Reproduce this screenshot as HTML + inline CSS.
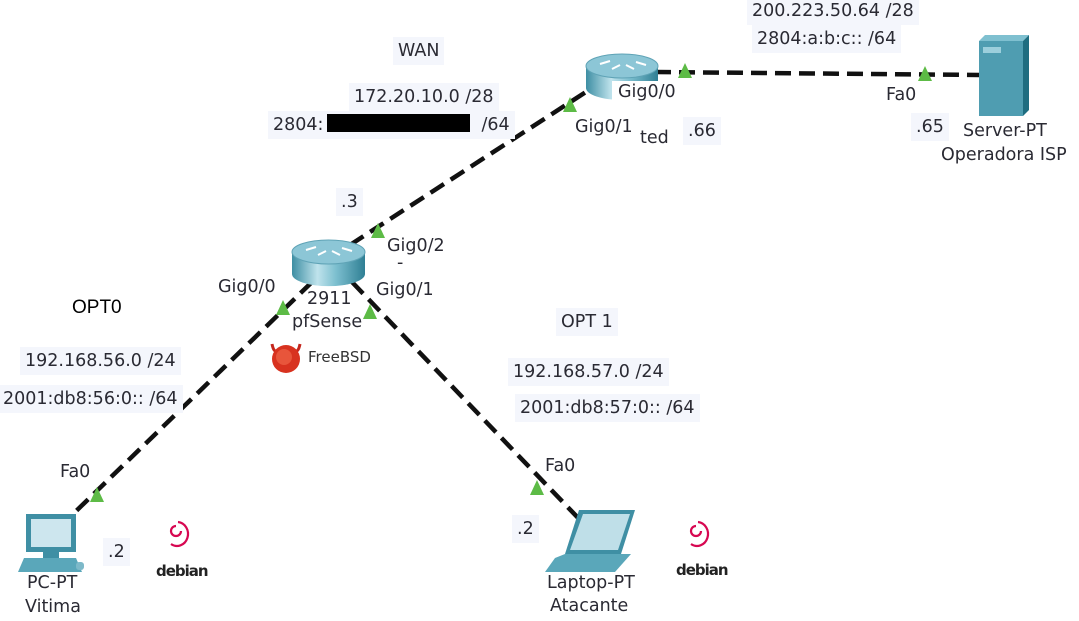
<!DOCTYPE html>
<html><head><meta charset="utf-8">
<style>
html,body{margin:0;padding:0;background:#fff;}
#c{position:relative;width:1079px;height:621px;overflow:hidden;font-family:"DejaVu Sans","Liberation Sans",sans-serif;font-size:17.5px;color:#2a2a33;}
.l{position:absolute;white-space:nowrap;line-height:22px;}
.b{background:#f4f6fc;padding:3px 5px;}
svg{position:absolute;left:0;top:0;}
</style></head><body><div id="c">
<svg width="1079" height="621" viewBox="0 0 1079 621">
<defs>
<linearGradient id="rg" x1="0" x2="1" y1="0" y2="0">
<stop offset="0" stop-color="#3d8ea3"/><stop offset="0.35" stop-color="#bfe3ec"/><stop offset="0.6" stop-color="#7dbfcf"/><stop offset="1" stop-color="#2f7f94"/>
</linearGradient>
</defs>
<g stroke="#111" stroke-width="4.5" stroke-dasharray="16,8" fill="none">
<line x1="350" y1="245" x2="592" y2="88"/>
<line x1="655" y1="72" x2="980" y2="75"/>
<line x1="312" y1="282" x2="72" y2="515"/>
<line x1="352" y1="282" x2="582" y2="522"/>
</g>
<g transform="translate(586,52)">
<path d="M0,14 v22 a36,12 0 0 0 72,0 v-22 z" fill="url(#rg)"/>
<ellipse cx="36" cy="14" rx="36" ry="12" fill="#8cc6d6" stroke="#5fa3b6"/>
<path d="M14,12 l10,-3 M50,10 l10,3 M26,17 l8,-4 M40,13 l8,4" stroke="#fff" stroke-width="2"/>
</g>
<g transform="translate(292,238)">
<path d="M0,14 v22 a36,12 0 0 0 73,0 v-22 z" fill="url(#rg)"/>
<ellipse cx="36.5" cy="14" rx="36.5" ry="12" fill="#8cc6d6" stroke="#5fa3b6"/>
<path d="M14,12 l10,-3 M50,10 l10,3 M26,17 l8,-4 M40,13 l8,4" stroke="#fff" stroke-width="2"/>
</g>
<g transform="translate(979,35)">
<polygon points="0,6 6,0 50,0 44,6" fill="#7fc0d0"/>
<polygon points="44,6 50,0 50,75 44,81" fill="#1f6d80"/>
<rect x="0" y="6" width="44" height="75" fill="#4f9db1"/>
<rect x="4" y="12" width="18" height="6" fill="#9ccfdc"/>
</g>
<g transform="translate(18,512)">
<rect x="8" y="2" width="50" height="38" fill="#3f8fa4"/>
<rect x="13" y="7" width="40" height="28" fill="#cde6ee"/>
<rect x="25" y="40" width="16" height="6" fill="#3f8fa4"/>
<polygon points="6,46 58,46 64,60 0,60" fill="#5aa7ba"/>
<rect x="58" y="50" width="8" height="8" rx="3" fill="#7db9c9"/>
</g>
<g transform="translate(545,508)">
<polygon points="34,2 90,2 76,46 20,46" fill="#3f8fa4"/>
<polygon points="38,6 85,6 73,42 25,42" fill="#bfdfe8"/>
<polygon points="20,46 76,46 86,46 70,64 0,64 10,50" fill="#5aa7ba"/>
</g>
<g transform="translate(270,340)">
<path d="M2,4 Q4,14 8,10 M30,4 Q28,14 24,10" stroke="#c4261d" stroke-width="3" fill="none"/>
<circle cx="16" cy="19" r="14" fill="#d8321f"/>
<circle cx="14" cy="17" r="8" fill="#e8553b"/>
</g>
<g fill="none" stroke="#d70751" stroke-width="2.2">
<path d="M178,522 a11,12 0 1 1 -7,22 M176,526 a5,5 0 1 0 5,5"/>
<path d="M698,522 a11,12 0 1 1 -7,22 M696,526 a5,5 0 1 0 5,5"/>
</g>
<g fill="#5dbb46">
<polygon points="570,97 563,112 577,112"/>
<polygon points="685,63 678,78 692,78"/>
<polygon points="925,66 918,81 932,81"/>
<polygon points="378,223 371,238 385,238"/>
<polygon points="283,300 276,315 290,315"/>
<polygon points="370,304 363,319 377,319"/>
<polygon points="97,487 90,502 104,502"/>
<polygon points="537,480 530,495 544,495"/>
</g>
</svg>

<div class="l b" style="left:747px;top:-3px">200.223.50.64 /28</div>
<div class="l b" style="left:752px;top:25px">2804:a:b:c:: /64</div>
<div class="l b" style="left:393px;top:37px">WAN</div>
<div class="l b" style="left:349px;top:83px">172.20.10.0 /28</div>
<div class="l b" style="left:268px;top:111px">2804:<span style="display:inline-block;width:158px"></span>/64</div>
<div class="l" style="left:612px;top:81px;background:#fff;padding:0 6px">Gig0/0</div>
<div class="l" style="left:575px;top:116px">Gig0/1</div>
<div class="l" style="left:640px;top:127px">ted</div>
<div class="l b" style="left:683px;top:117px">.66</div>
<div class="l" style="left:886px;top:84px">Fa0</div>
<div class="l b" style="left:911px;top:113px">.65</div>
<div class="l" style="left:963px;top:120px">Server-PT</div>
<div class="l" style="left:941px;top:144px">Operadora ISP</div>
<div class="l b" style="left:336px;top:188px">.3</div>
<div class="l" style="left:387px;top:235px">Gig0/2</div>
<div class="l" style="left:397px;top:252px">-</div>
<div class="l" style="left:376px;top:279px">Gig0/1</div>
<div class="l" style="left:218px;top:276px">Gig0/0</div>
<div class="l" style="left:307px;top:288px">2911</div>
<div class="l" style="left:292px;top:311px">pfSense</div>
<div class="l" style="left:308px;top:346px;font-size:15px;color:#333">FreeBSD</div>
<div class="l" style="left:67px;top:294px;font-family:'Liberation Sans',sans-serif;font-size:19px;color:#000;background:#fff;padding:3px 5px">OPT0</div>
<div class="l b" style="left:20px;top:347px">192.168.56.0 /24</div>
<div class="l b" style="left:-2px;top:385px">2001:db8:56:0:: /64</div>
<div class="l b" style="left:556px;top:308px">OPT 1</div>
<div class="l b" style="left:508px;top:358px">192.168.57.0 /24</div>
<div class="l b" style="left:515px;top:394px">2001:db8:57:0:: /64</div>
<div class="l" style="left:60px;top:461px">Fa0</div>
<div class="l b" style="left:103px;top:538px">.2</div>
<div class="l" style="left:27px;top:572px">PC-PT</div>
<div class="l" style="left:25px;top:596px">Vitima</div>
<div class="l" style="left:156px;top:560px;font-size:15px;font-weight:bold;letter-spacing:-1px;color:#222">debian</div>
<div class="l" style="left:545px;top:455px">Fa0</div>
<div class="l b" style="left:512px;top:515px">.2</div>
<div class="l" style="left:547px;top:572px">Laptop-PT</div>
<div class="l" style="left:550px;top:595px">Atacante</div>
<div class="l" style="left:676px;top:559px;font-size:15px;font-weight:bold;letter-spacing:-1px;color:#222">debian</div>
<div style="position:absolute;left:327px;top:114px;width:143px;height:18px;background:#000"></div>
</div></body></html>
